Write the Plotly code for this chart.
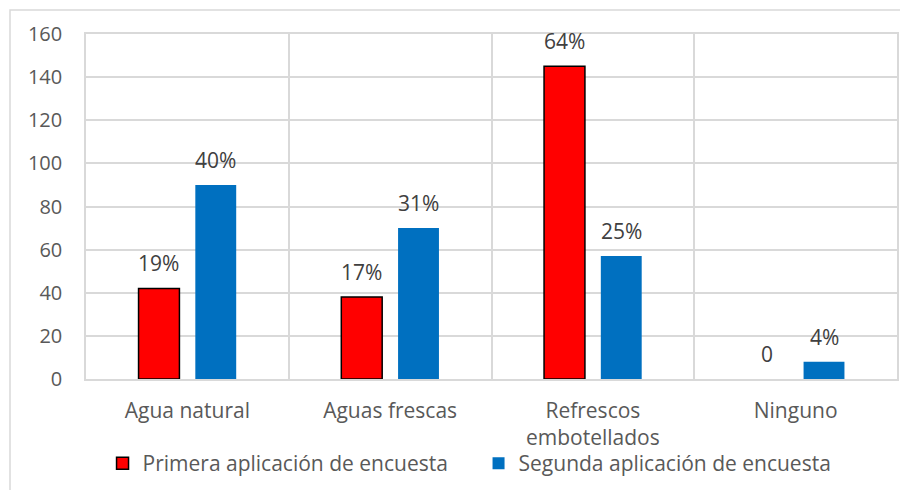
import plotly.graph_objects as go

categories = ["Agua natural", "Aguas frescas", "Refrescos<br>embotellados", "Ninguno"]
primera = [42, 38, 145, 0]
segunda = [90, 70, 57, 8]
primera_labels = ["19%", "17%", "64%", "0"]
segunda_labels = ["40%", "31%", "25%", "4%"]
y_ticks = [0, 20, 40, 60, 80, 100, 120, 140, 160]

FONT = "Open Sans"
FS = 21
fig = go.Figure()
fig.add_trace(go.Bar(
    x=categories, y=primera, name="Primera aplicación de encuesta",
    marker=dict(color="#FF0000", line=dict(color="#000000", width=[1.5 if v > 0 else 0 for v in primera])),
))
fig.add_trace(go.Bar(
    x=categories, y=segunda, name="Segunda aplicación de encuesta",
    marker=dict(color="#0070C0", line=dict(color="#0070C0", width=0)),
))

ann = []
for i, (v, t) in enumerate(zip(primera, primera_labels)):
    ann.append(dict(x=i - 0.14, y=v, xref="x", yref="y", text=t, showarrow=False,
                    yshift=25, yanchor="middle", font=dict(size=FS, color="#404040", family=FONT)))
for i, (v, t) in enumerate(zip(segunda, segunda_labels)):
    ann.append(dict(x=i + 0.14, y=v, xref="x", yref="y", text=t, showarrow=False,
                    yshift=25, yanchor="middle", font=dict(size=FS, color="#404040", family=FONT)))

fig.update_layout(
    width=908, height=490,
    margin=dict(l=78, r=19, t=26, b=119, autoexpand=False),
    paper_bgcolor="white", plot_bgcolor="white",
    barmode="group", bargap=0.44, bargroupgap=0.28,
    font=dict(family=FONT, size=FS, color="#595959"),
    annotations=ann,
    showlegend=True,
    legend=dict(orientation="h", x=0.0204, y=-0.245, xanchor="left", yanchor="middle",
                font=dict(size=FS, color="#595959", family=FONT),
                entrywidth=331, entrywidthmode="pixels", bgcolor="rgba(0,0,0,0)"),
    shapes=[dict(type="rect", xref="paper", yref="paper",
                 x0=-0.0937, x1=1.02, y0=-0.34, y1=1.0696,
                 line=dict(color="#D9D9D9", width=1.5), fillcolor="rgba(0,0,0,0)", layer="below")],
)
fig.update_xaxes(
    type="category", tickson="boundaries", showgrid=True, gridcolor="#D9D9D9", gridwidth=1.5,
    showline=True, linecolor="#D9D9D9", linewidth=1.5, mirror=True,
    ticks="", ticklabelstandoff=12, automargin=False,
    tickfont=dict(size=FS, color="#595959", family=FONT),
)
fig.update_yaxes(
    range=[0, 160], tickvals=y_ticks, showgrid=True, gridcolor="#D9D9D9", gridwidth=1.5,
    zeroline=False, showline=True, linecolor="#D9D9D9", linewidth=1.5, mirror=True,
    ticks="outside", ticklen=18, tickcolor="rgba(0,0,0,0)", automargin=False,
    tickfont=dict(size=20, color="#595959", family=FONT),
)
fig.write_html("out.html")
